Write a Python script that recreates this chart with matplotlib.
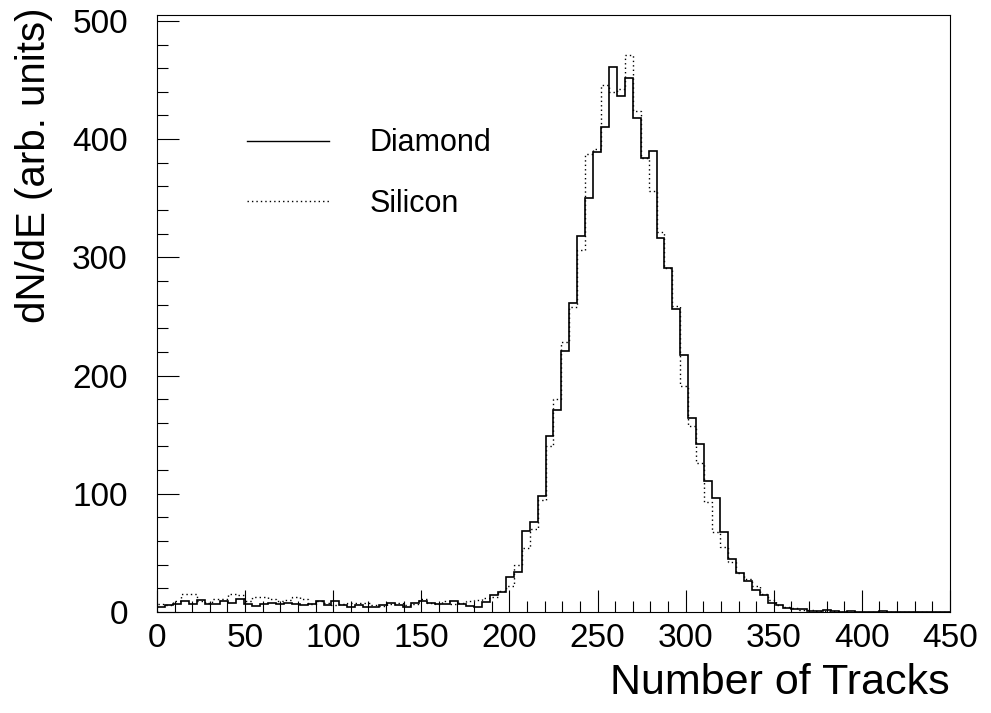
import numpy as np
import matplotlib
matplotlib.use("Agg")
import matplotlib.pyplot as plt
from matplotlib.lines import Line2D
from matplotlib.ticker import MultipleLocator

plt.rcParams['font.family'] = ['Liberation Sans', 'DejaVu Sans']

# 100 bins from 0 to 450
x_min, x_max, n_bins = 0, 450, 100

diamond = [
    4.5, 6, 7, 9, 6.5, 10, 7, 7, 9, 7.5,
    11, 7, 5, 7, 8, 7, 8, 6.5, 6, 6.5,
    9.5, 6, 9.5, 6, 4.5, 6, 4.5, 4.5, 6, 8,
    6, 4.5, 8, 9, 8, 7, 6.5, 9, 7, 5,
    4.5, 8.7, 14.4, 16.7, 29.4, 34.2, 68.9, 76.5, 97.7, 149,
    170.6, 221, 261, 318, 350, 388.7, 410, 460.8, 436.7, 452,
    418, 383.6, 389.6, 316, 291, 256.5, 217, 164, 142, 111,
    96.3, 67.5, 45, 33, 26, 19, 14, 8, 5.5, 3.7,
    2.5, 2.3, 0.8, 0.8, 1.7, 0.5, 0.3, 0.8, 0, 0,
    0, 0.5, 0, 0, 0, 0, 0, 0, 0, 0,
]

silicon = [
    7, 6, 9, 15, 15, 9, 8, 11, 11, 15,
    14, 9, 13, 13, 11, 9, 10, 13, 11, 7,
    9, 8, 6, 7, 8, 8, 8, 6, 5, 7,
    8, 6, 7, 11, 8, 7, 9, 7, 8, 9,
    10, 12, 13, 18, 22, 40, 54, 70, 95, 140,
    180, 228, 258, 306, 387, 392, 446, 440, 442, 471,
    424, 384, 356, 321, 291, 259, 191, 157, 126, 93,
    68, 55, 42, 33, 28, 22, 15, 10, 6, 4,
    3, 2, 1.5, 1, 1, 0.5, 0.3, 0.3, 0, 0,
    0, 0, 0, 0, 0, 0, 0.3, 0, 0, 0,
]

labels = ['Diamond', 'Silicon']

edges = np.linspace(x_min, x_max, n_bins + 1)

fig = plt.figure(figsize=(9.91, 7.13), dpi=100)
ax = fig.add_axes([0.1584, 0.1417, 0.8002, 0.8373])

ax.stairs(silicon, edges, color='black', lw=1.0, linestyle=(0, (1, 2.2)))
ax.stairs(diamond, edges, color='black', lw=1.2)

ax.set_xlim(x_min, x_max)
ax.set_ylim(0, 505)

ax.xaxis.set_major_locator(MultipleLocator(50))
ax.xaxis.set_minor_locator(MultipleLocator(10))
ax.yaxis.set_major_locator(MultipleLocator(100))
ax.yaxis.set_minor_locator(MultipleLocator(20))

ax.tick_params(which='both', direction='in', top=False, right=False, width=0.8)
ax.tick_params(which='major', length=15.8, labelsize=24)
ax.tick_params(axis='x', which='major', pad=8)
ax.tick_params(axis='y', which='major', pad=21)
ax.tick_params(which='minor', length=7.9)
for s in ax.spines.values():
    s.set_linewidth(0.8)

ax.set_xlabel('Number of Tracks', fontsize=31, loc='right')
ax.xaxis.set_label_coords(1.0, -0.085)
ax.set_ylabel('dN/dE (arb. units)', fontsize=29, loc='top')
ax.yaxis.set_label_coords(-0.131, 1.012)

handles = [Line2D([], [], color='black', lw=1.0),
           Line2D([], [], color='black', lw=1.0, linestyle=(0, (1, 2.2)))]
ax.legend(handles, labels, loc='upper left', bbox_to_anchor=(0.1135, 0.81),
          frameon=False, fontsize=22, handlelength=2.7, handletextpad=1.3,
          labelspacing=1.0, borderpad=0, borderaxespad=0)

fig.savefig('out.png', dpi=100)
